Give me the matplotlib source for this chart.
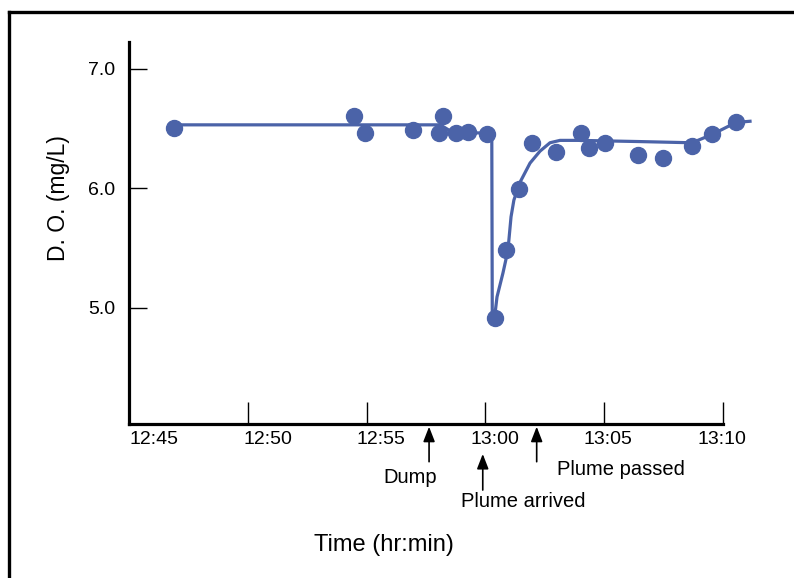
import numpy as np
import matplotlib.pyplot as plt
from matplotlib.lines import Line2D

plt.rcParams['font.family'] = ['Liberation Sans', 'DejaVu Sans']

# minutes after 12:45
obs_min = [1.91, 9.48, 9.93, 11.97, 13.05, 13.23, 13.76, 14.25, 15.08, 15.40,
           15.87, 16.43, 16.95, 17.97, 19.02, 19.37, 20.03, 21.41, 22.46, 23.71,
           24.55, 25.53]
obs_do = [6.50, 6.60, 6.46, 6.49, 6.46, 6.60, 6.46, 6.47, 6.45, 4.91,
          5.48, 5.99, 6.38, 6.30, 6.46, 6.34, 6.38, 6.28, 6.25, 6.35,
          6.45, 6.55]

# smooth fitted curve
fit_min = [1.91, 13.1, 13.6, 15.05, 15.27, 15.29, 15.40, 15.49, 15.74, 15.95,
           16.08, 16.20, 16.46, 16.88, 17.30, 17.72, 18.14, 18.98, 21.5, 23.7,
           24.55, 25.55, 26.14]
fit_do = [6.53, 6.53, 6.47, 6.46, 6.45, 4.97, 4.94, 5.09, 5.29, 5.48,
          5.76, 5.90, 6.05, 6.21, 6.31, 6.38, 6.40, 6.40, 6.39, 6.38,
          6.45, 6.55, 6.56]

tick_min = [0, 5, 10, 15, 20, 25]
tick_labels = ['12:45', '12:50', '12:55', '13:00', '13:05', '13:10']

events = ['Dump', 'Plume arrived', 'Plume passed']
event_min = [12.63, 14.89, 17.16]

blue = '#4b63a8'

fig = plt.figure(figsize=(7.94, 5.78), dpi=100)
ax = fig.add_axes([0.1625, 0.2659, 0.748, 0.662])

ax.plot(fit_min, fit_do, color=blue, lw=2.3, clip_on=False, zorder=2)
ax.plot(obs_min, obs_do, 'o', color=blue, ms=11.5, clip_on=False, zorder=3)

ax.set_xlim(0, 25)
ax.set_ylim(4.024, 7.226)

for s in ['top', 'right']:
    ax.spines[s].set_visible(False)
for s in ['left', 'bottom']:
    ax.spines[s].set_linewidth(2.3)

# major ticks point inward, labels drift a little to the right of them
ax.set_xticks(tick_min[1:])
ax.set_xticklabels([])
ax.tick_params(axis='x', which='major', direction='in', length=16, width=1)
label_pos = [1.05 + 4.78 * i for i in range(len(tick_labels))]
ax.set_xticks(label_pos, tick_labels, minor=True)
ax.tick_params(axis='x', which='minor', length=0, pad=5, labelsize=14)

ax.set_yticks([5.0, 6.0, 7.0])
ax.set_yticklabels(['5.0', '6.0', '7.0'])
ax.tick_params(axis='y', direction='in', length=13, width=1, pad=10, labelsize=14)

ax.set_ylabel('D. O. (mg/L)', fontsize=16.5)
ax.yaxis.set_label_coords(-0.1, 0.59)
fig.text(384 / 794, 1 - 545 / 578, 'Time (hr:min)', fontsize=17,
         ha='center', va='center')

# event arrows below the axis
arrow_tip = [4.004, 3.776, 4.004]
arrow_tail = [3.711, 3.474, 3.711]
label_xy = [(11.83, 3.58), (16.58, 3.377), (20.69, 3.642)]
for name, t, tip, tail, (lx, ly) in zip(events, event_min, arrow_tip, arrow_tail, label_xy):
    ax.annotate('', xy=(t, tip), xytext=(t, tail), annotation_clip=False,
                arrowprops=dict(arrowstyle='-|>,head_length=0.9,head_width=0.35',
                                color='black', lw=1.2, shrinkA=0, shrinkB=0))
    ax.text(lx, ly, name, fontsize=14.5, ha='center', va='center', clip_on=False)

# frame lines from the cropped original
fig.add_artist(Line2D([9 / 794, 9 / 794], [0, 1 - 11.7 / 578], color='black', lw=2.4))
fig.add_artist(Line2D([9 / 794, 1], [1 - 11.7 / 578, 1 - 11.7 / 578], color='black', lw=2.4))

fig.savefig('out.png', dpi=100)
